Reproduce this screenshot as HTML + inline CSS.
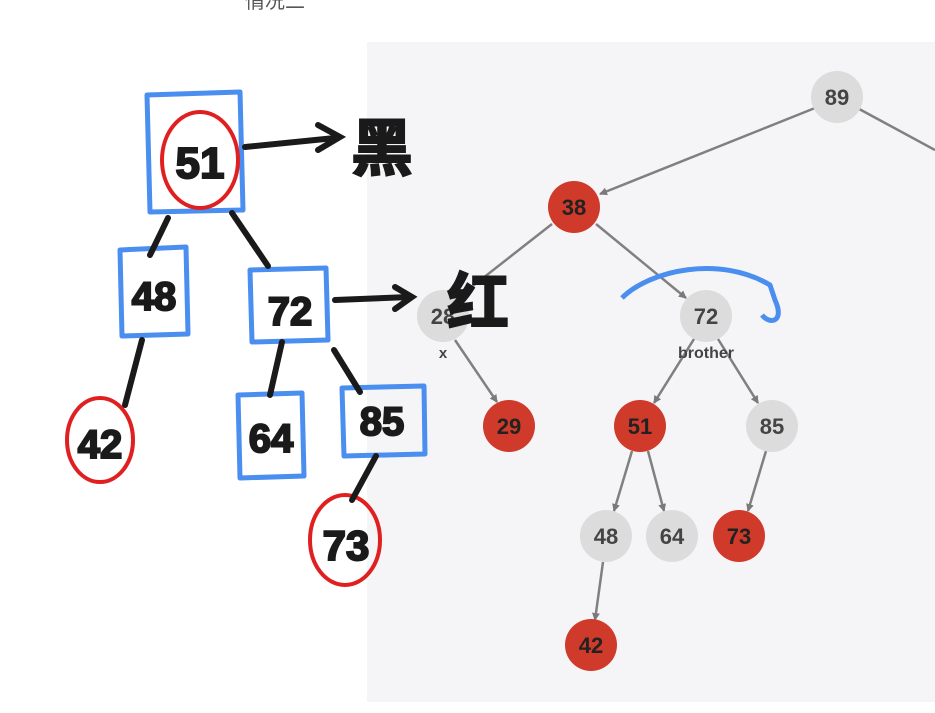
<!DOCTYPE html>
<html><head><meta charset="utf-8"><style>
html,body{margin:0;padding:0;background:#fff;}
svg{display:block}
</style></head><body>
<svg width="935" height="713" viewBox="0 0 935 713" xmlns="http://www.w3.org/2000/svg" font-family="Liberation Sans, sans-serif">
<defs>
<marker id="ar" markerWidth="8" markerHeight="8" refX="7" refY="4" orient="auto" markerUnits="userSpaceOnUse">
<path d="M0,0 L8,4 L0,8 z" fill="#7a7a7a"/></marker>
</defs>
<rect width="935" height="713" fill="#fff"/>
<rect x="367" y="42" width="568" height="660" fill="#f5f5f7"/>
<text x="245" y="8" font-size="20" fill="#555" font-family="Liberation Sans, Noto Sans CJK SC, sans-serif">情况二</text>
<g stroke="#808080" stroke-width="2.5" fill="none">
<line x1="837" y1="97" x2="935" y2="150"/>
<line x1="815" y1="108" x2="600" y2="194" marker-end="url(#ar)"/>
<line x1="552" y1="224" x2="460" y2="296"/>
<line x1="596" y1="224" x2="686" y2="298" marker-end="url(#ar)"/>
<line x1="455" y1="340" x2="497" y2="402" marker-end="url(#ar)"/>
<line x1="694" y1="339" x2="654" y2="403" marker-end="url(#ar)"/>
<line x1="718" y1="339" x2="758" y2="403" marker-end="url(#ar)"/>
<line x1="632" y1="451" x2="614" y2="511" marker-end="url(#ar)"/>
<line x1="648" y1="451" x2="664" y2="511" marker-end="url(#ar)"/>
<line x1="766" y1="451" x2="748" y2="511" marker-end="url(#ar)"/>
<line x1="603" y1="562" x2="595" y2="620" marker-end="url(#ar)"/>
</g>
<g font-size="22" font-weight="bold" text-anchor="middle">
<circle cx="837" cy="97" r="26" fill="#dcdcdc"/><text x="837" y="105" fill="#444">89</text>
<circle cx="574" cy="207" r="26" fill="#cf3a2a"/><text x="574" y="215" fill="#222">38</text>
<circle cx="443" cy="316" r="26" fill="#dcdcdc"/><text x="443" y="324" fill="#444">28</text>
<circle cx="706" cy="316" r="26" fill="#dcdcdc"/><text x="706" y="324" fill="#444">72</text>
<circle cx="509" cy="426" r="26" fill="#cf3a2a"/><text x="509" y="434" fill="#222">29</text>
<circle cx="640" cy="426" r="26" fill="#cf3a2a"/><text x="640" y="434" fill="#222">51</text>
<circle cx="772" cy="426" r="26" fill="#dcdcdc"/><text x="772" y="434" fill="#444">85</text>
<circle cx="606" cy="536" r="26" fill="#dcdcdc"/><text x="606" y="544" fill="#444">48</text>
<circle cx="672" cy="536" r="26" fill="#dcdcdc"/><text x="672" y="544" fill="#444">64</text>
<circle cx="739" cy="536" r="26" fill="#cf3a2a"/><text x="739" y="544" fill="#222">73</text>
<circle cx="591" cy="645" r="26" fill="#cf3a2a"/><text x="591" y="653" fill="#222">42</text>
</g>
<text x="443" y="358" font-size="15" font-weight="bold" fill="#444" text-anchor="middle">x</text>
<text x="706" y="358" font-size="16" font-weight="bold" fill="#444" text-anchor="middle">brother</text>
<g fill="none" stroke="#4a8ef0" stroke-width="5" stroke-linejoin="round">
<path d="M147,95 L240,92 L243,210 L150,212 Z"/>
<path d="M120,250 L186,247 L188,334 L122,336 Z"/>
<path d="M250,270 L326,268 L328,340 L252,342 Z"/>
<path d="M238,395 L302,393 L304,476 L240,478 Z"/>
<path d="M342,388 L424,386 L425,454 L344,456 Z"/>
<path d="M622,298 C650,270 720,255 770,285 L775,300 C785,322 770,325 762,315"/>
</g>
<g fill="none" stroke="#e02020" stroke-width="4">
<ellipse cx="200" cy="160" rx="38" ry="48"/>
<ellipse cx="100" cy="440" rx="33" ry="42"/>
<ellipse cx="345" cy="540" rx="35" ry="45"/>
</g>
<g fill="none" stroke="#1a1a1a" stroke-width="6" stroke-linecap="round">
<path d="M245,147 L335,138 M318,125 L340,137 L318,150"/>
<path d="M168,218 L150,255"/>
<path d="M232,213 L268,266"/>
<path d="M142,340 L125,405"/>
<path d="M282,342 L270,395"/>
<path d="M334,350 L360,392"/>
<path d="M376,456 L352,500"/>
<path d="M335,300 L410,297 M395,287 L412,297 L395,309"/>
</g>
<g fill="#1a1a1a" stroke="#1a1a1a" stroke-width="2" font-family="Liberation Sans, Noto Sans CJK SC, sans-serif" font-weight="bold" text-anchor="middle">
<text x="200" y="178" font-size="44">51</text>
<text x="154" y="310" font-size="40">48</text>
<text x="290" y="325" font-size="40">72</text>
<text x="100" y="458" font-size="40">42</text>
<text x="271" y="452" font-size="40">64</text>
<text x="382" y="435" font-size="40">85</text>
<text x="346" y="560" font-size="42">73</text>
<text x="382" y="170" font-size="62" font-family="Noto Sans CJK SC, sans-serif">黑</text>
<text x="478" y="324" font-size="62" font-family="Noto Sans CJK SC, sans-serif">红</text>
</g>
</svg>
</body></html>
